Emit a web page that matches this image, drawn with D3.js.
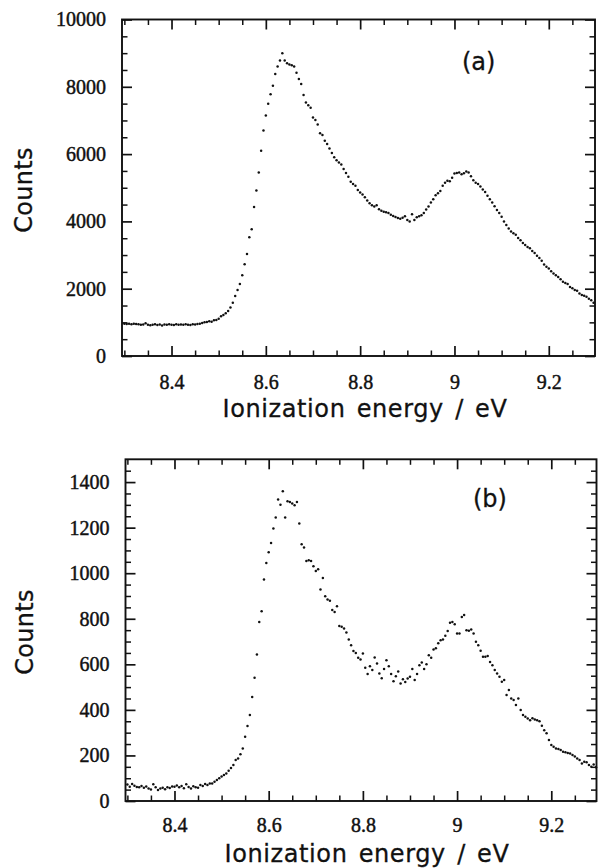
<!DOCTYPE html>
<html><head><meta charset="utf-8">
<script src="https://cdn.jsdelivr.net/npm/d3@7"></script>
<style>body{margin:0;background:#fff} svg{display:block}</style>
</head><body>
<svg id="c" width="598" height="868"></svg>
<script>
// Ionization energy grid (eV), shared by both panels
const energy = [
 8.300,8.305,8.310,8.315,8.320,8.325,8.330,8.335,8.340,8.345,
 8.350,8.355,8.360,8.365,8.370,8.375,8.380,8.385,8.390,8.395,
 8.400,8.405,8.410,8.415,8.420,8.425,8.430,8.435,8.440,8.445,
 8.450,8.455,8.460,8.465,8.470,8.475,8.480,8.485,8.490,8.495,
 8.500,8.505,8.510,8.515,8.520,8.525,8.530,8.535,8.540,8.545,
 8.550,8.555,8.560,8.565,8.570,8.575,8.580,8.585,8.590,8.595,
 8.600,8.605,8.610,8.615,8.620,8.625,8.630,8.635,8.640,8.645,
 8.650,8.655,8.660,8.665,8.670,8.675,8.680,8.685,8.690,8.695,
 8.700,8.705,8.710,8.715,8.720,8.725,8.730,8.735,8.740,8.745,
 8.750,8.755,8.760,8.765,8.770,8.775,8.780,8.785,8.790,8.795,
 8.800,8.805,8.810,8.815,8.820,8.825,8.830,8.835,8.840,8.845,
 8.850,8.855,8.860,8.865,8.870,8.875,8.880,8.885,8.890,8.895,
 8.900,8.905,8.910,8.915,8.920,8.925,8.930,8.935,8.940,8.945,
 8.950,8.955,8.960,8.965,8.970,8.975,8.980,8.985,8.990,8.995,
 9.000,9.005,9.010,9.015,9.020,9.025,9.030,9.035,9.040,9.045,
 9.050,9.055,9.060,9.065,9.070,9.075,9.080,9.085,9.090,9.095,
 9.100,9.105,9.110,9.115,9.120,9.125,9.130,9.135,9.140,9.145,
 9.150,9.155,9.160,9.165,9.170,9.175,9.180,9.185,9.190,9.195,
 9.200,9.205,9.210,9.215,9.220,9.225,9.230,9.235,9.240,9.245,
 9.250,9.255,9.260,9.265,9.270,9.275,9.280,9.285,9.290,9.295
];
// Panel (a) counts
const countsA = [
 960,950,955,945,960,950,940,930,935,975,
 925,915,930,940,920,935,910,935,925,940,
 930,920,940,925,935,930,945,930,920,940,
 935,950,960,980,1000,1010,1030,1020,1060,1070,
 1110,1180,1220,1270,1340,1440,1580,1780,1960,2140,
 2400,2730,3030,3530,3770,4430,4920,5450,6100,6700,
 7150,7500,7780,8030,8380,8600,8780,9000,8780,8700,
 8660,8640,8600,8420,8230,8080,7760,7530,7450,7380,
 7090,7010,6880,6620,6570,6400,6300,6170,6030,5910,
 5820,5750,5690,5560,5440,5330,5180,5110,5060,4930,
 4860,4800,4716,4620,4540,4480,4440,4480,4360,4320,
 4290,4270,4250,4200,4160,4130,4100,4080,4110,4150,
 4040,4000,4210,4040,4120,4150,4180,4250,4350,4440,
 4560,4660,4780,4840,4900,5060,5150,5210,5190,5300,
 5420,5440,5450,5400,5430,5480,5450,5340,5220,5150,
 5110,5040,4950,4870,4760,4660,4560,4450,4340,4250,
 4140,4000,3890,3790,3700,3650,3600,3510,3440,3360,
 3300,3240,3200,3120,3060,2980,2910,2830,2720,2650,
 2600,2520,2450,2400,2350,2280,2210,2170,2140,2050,
 2010,1960,1940,1860,1810,1790,1760,1700,1660,1580
];
// Panel (b) counts
const countsB = [
 72,63,75,67,62,60,66,58,64,55,
 51,73,60,48,55,58,52,60,57,64,
 63,68,60,66,56,73,62,55,65,60,
 58,70,66,75,70,77,77,85,92,100,
 108,114,121,133,145,158,180,187,205,231,
 282,329,377,457,541,643,786,833,972,1045,
 1092,1133,1196,1244,1323,1301,1360,1244,1316,1313,
 1306,1298,1313,1218,1127,1113,1054,1057,1054,1030,
 1010,1017,928,979,899,885,879,838,830,855,
 768,765,757,740,709,684,658,650,629,621,
 648,585,557,592,575,630,604,560,539,579,
 618,592,557,526,548,569,516,535,522,538,
 545,580,531,557,596,608,580,600,640,629,
 665,670,692,706,709,725,746,782,786,776,
 735,735,808,816,750,747,753,735,699,684,
 660,633,633,636,610,596,575,560,545,523,
 531,465,487,450,443,421,450,400,377,370,
 362,355,363,358,355,350,330,311,297,268,
 246,238,231,228,224,216,214,211,209,202,
 195,187,180,165,172,170,158,150,160,148
];
const xTicks = [8.4, 8.6, 8.8, 9, 9.2];
const xTickLabels = ["8.4", "8.6", "8.8", "9", "9.2"];
const yTicksA = [0, 2000, 4000, 6000, 8000, 10000];
const yTicksB = [0, 200, 400, 600, 800, 1000, 1200, 1400];
const panelLabels = ["(a)", "(b)"];
const xTitle = "Ionization energy / eV";
const yTitle = "Counts";

const svg = d3.select("#c");
const ink = "#111";

const panels = [
  {counts: countsA, yTicks: yTicksA, yDomain: [0, 10000], yMinorStep: 500,
   xDomain: [8.295, 9.298], l: 122, r: 595, t: 19.5, b: 356, xPad: 19, yPad: 16,
   xTitleY: 417, xTitleX: 365, yTitleX: 32, yTitleY: 190, labX: 462, labY: 70, label: panelLabels[0]},
  {counts: countsB, yTicks: yTicksB, yDomain: [0, 1500], yMinorStep: 50,
   xDomain: [8.296, 9.296], l: 125.5, r: 596.5, t: 459.3, b: 801, xPad: 17, yPad: 16,
   xTitleY: 862, xTitleX: 367, yTitleX: 33, yTitleY: 632, labX: 473, labY: 507, label: panelLabels[1]}
];

function styleAxis(sel, major) {
  sel.select(".domain").remove();
  sel.selectAll(".tick line").attr("stroke", ink).attr("stroke-width", major ? 1.7 : 1.5);
  sel.selectAll(".tick text").attr("fill", ink)
     .attr("stroke", ink).attr("stroke-width", 0.45)
     .style("font-family", "'Liberation Serif', 'DejaVu Serif', serif")
     .style("font-size", "20px");
}

panels.forEach(p => {
  const g = svg.append("g");
  const x = d3.scaleLinear().domain(p.xDomain).range([p.l, p.r]);
  const y = d3.scaleLinear().domain(p.yDomain).range([p.b, p.t]);

  const xMinor = d3.range(8.30, 9.3001, 0.05).map(v => +v.toFixed(2))
    .filter(v => !xTicks.some(t => Math.abs(t - v) < 1e-6) && v > p.xDomain[0] + 0.004 && v < p.xDomain[1] - 0.004);
  const yMinor = d3.range(0, p.yDomain[1] + 1, p.yMinorStep)
    .filter(v => !p.yTicks.includes(v) && v > 0 && v < p.yDomain[1]);

  const MJ = 10, MN = 5.5;
  // bottom
  g.append("g").attr("transform", `translate(0,${p.b})`)
    .call(d3.axisBottom(x).tickValues(xTicks).tickFormat((d, i) => xTickLabels[i]).tickSizeInner(-MJ).tickSizeOuter(0).tickPadding(p.xPad))
    .call(s => styleAxis(s, true));
  g.append("g").attr("transform", `translate(0,${p.b})`)
    .call(d3.axisBottom(x).tickValues(xMinor).tickFormat("").tickSizeInner(-MN).tickSizeOuter(0))
    .call(s => styleAxis(s, false));
  // top
  g.append("g").attr("transform", `translate(0,${p.t})`)
    .call(d3.axisTop(x).tickValues(xTicks).tickFormat("").tickSizeInner(-MJ).tickSizeOuter(0))
    .call(s => styleAxis(s, true));
  g.append("g").attr("transform", `translate(0,${p.t})`)
    .call(d3.axisTop(x).tickValues(xMinor).tickFormat("").tickSizeInner(-MN).tickSizeOuter(0))
    .call(s => styleAxis(s, false));
  // left
  g.append("g").attr("transform", `translate(${p.l},0)`)
    .call(d3.axisLeft(y).tickValues(p.yTicks).tickFormat(d3.format("d")).tickSizeInner(-MJ).tickSizeOuter(0).tickPadding(p.yPad))
    .call(s => styleAxis(s, true));
  g.append("g").attr("transform", `translate(${p.l},0)`)
    .call(d3.axisLeft(y).tickValues(yMinor).tickFormat("").tickSizeInner(-MN).tickSizeOuter(0))
    .call(s => styleAxis(s, false));
  // right
  g.append("g").attr("transform", `translate(${p.r},0)`)
    .call(d3.axisRight(y).tickValues(p.yTicks).tickFormat("").tickSizeInner(-MJ).tickSizeOuter(0))
    .call(s => styleAxis(s, true));
  g.append("g").attr("transform", `translate(${p.r},0)`)
    .call(d3.axisRight(y).tickValues(yMinor).tickFormat("").tickSizeInner(-MN).tickSizeOuter(0))
    .call(s => styleAxis(s, false));

  // frame
  g.append("rect").attr("x", p.l).attr("y", p.t)
    .attr("width", p.r - p.l).attr("height", p.b - p.t)
    .attr("fill", "none").attr("stroke", ink).attr("stroke-width", 1.9);

  // data points
  g.append("g").selectAll("circle")
    .data(energy.map((e, i) => [e, p.counts[i]]))
    .join("circle")
    .attr("cx", d => x(d[0])).attr("cy", d => y(d[1]))
    .attr("r", 1.25).attr("fill", ink);

  const sans = "'DejaVu Sans', Verdana, sans-serif";
  g.append("text").attr("x", p.xTitleX).attr("y", p.xTitleY)
    .attr("text-anchor", "middle").attr("fill", ink)
    .attr("stroke", ink).attr("stroke-width", 0.3)
    .style("font-family", sans).style("font-size", "24px")
    .style("letter-spacing", "0.6px").style("word-spacing", "3px")
    .text(xTitle);
  g.append("text").attr("transform", `translate(${p.yTitleX},${p.yTitleY}) rotate(-90)`)
    .attr("text-anchor", "middle").attr("fill", ink)
    .attr("stroke", ink).attr("stroke-width", 0.3)
    .style("font-family", sans).style("font-size", "24px").style("letter-spacing", "0.3px")
    .text(yTitle);
  g.append("text").attr("x", p.labX).attr("y", p.labY).attr("fill", ink)
    .attr("stroke", ink).attr("stroke-width", 0.3)
    .style("font-family", sans).style("font-size", "24px")
    .text(p.label);
});
</script>
</body></html>
